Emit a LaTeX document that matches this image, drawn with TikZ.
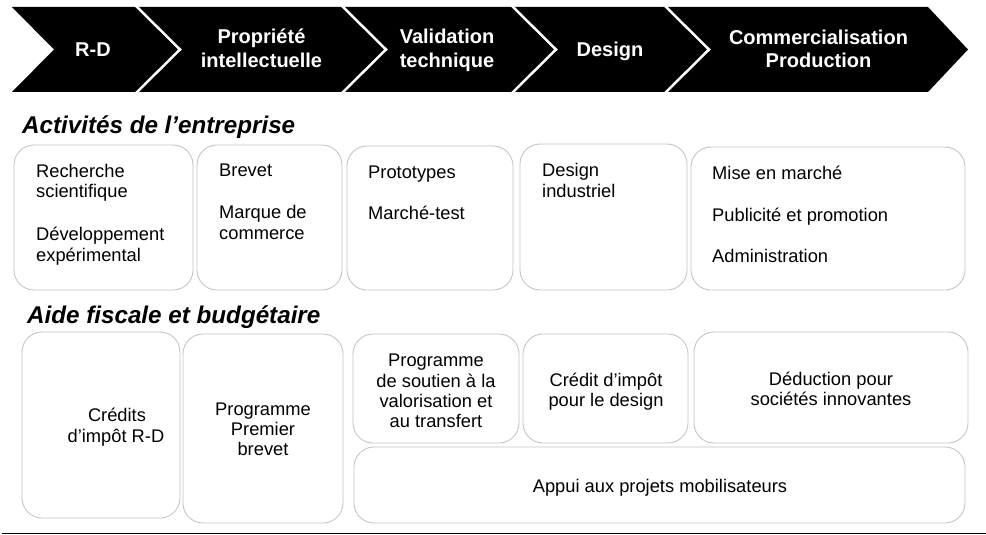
\documentclass[tikz,border=0pt]{standalone}
\usepackage{fontspec}
\setmainfont{Liberation Sans}
\definecolor{boxgray}{HTML}{C4C4C4}
\begin{document}
\begin{tikzpicture}[x=1pt,y=-1pt,
  box/.style={draw=boxgray, line width=0.9pt, rounded corners=20pt, anchor=north west, inner sep=0pt, outer sep=0pt},
  chevlab/.style={text=white, font=\bfseries\fontsize{20}{23}\selectfont, anchor=base, inner sep=0pt},
  celltxt/.style={font=\fontsize{18.3}{20.5}\selectfont, anchor=base west, inner sep=0pt},
  ctrtxt/.style={font=\fontsize{18.3}{20.5}\selectfont, anchor=base, inner sep=0pt},
  sectitle/.style={font=\bfseries\itshape\fontsize{24.2}{28}\selectfont, anchor=base west, inner sep=0pt},
  sep/.style={draw=white, line width=2.5pt}]
\useasboundingbox (0,0) rectangle (986,535);

% chevron band
\fill[black] (12,7) -- (928,7) -- (968,49.5) -- (928,92) -- (12,92) -- (54,49.5) -- cycle;
\foreach \b in {137,343,513,666}
  \draw[sep] (\b-2,5) -- (\b+43,49.5) -- (\b-2,94);

\node[chevlab] (l1) at (93,57) {R-D};
\node[chevlab] (l2a) at (261.5,44) {Propriété};
\node[chevlab] (l2b) at (261.5,67.5) {intellectuelle};
\node[chevlab] (l3a) at (447,44) {Validation};
\node[chevlab] (l3b) at (447,67.5) {technique};
\node[chevlab] (l4) at (610,57) {Design};
\node[chevlab] (l5a) at (818.5,45) {Commercialisation};
\node[chevlab] (l5b) at (818.5,68) {Production};

% section titles
\node[sectitle] (s1) at (22,133.3) {Activités de l’entreprise};
\node[sectitle] (s2) at (27,323.3) {Aide fiscale et budgétaire};

% row 1 boxes
\node[box, minimum width=179pt, minimum height=145pt] (b1) at (14,145) {};
\node[box, minimum width=145pt, minimum height=145pt] (b2) at (197,145) {};
\node[box, minimum width=166pt, minimum height=144pt] (b3) at (347,146) {};
\node[box, minimum width=167pt, minimum height=146pt] (b4) at (520,144) {};
\node[box, minimum width=274pt, minimum height=143pt] (b5) at (691,147) {};

\node[celltxt] (t1a) at (36,177) {Recherche};
\node[celltxt] (t1b) at (36,197.5) {scientifique};
\node[celltxt] (t1c) at (36,240.5) {Développement};
\node[celltxt] (t1d) at (36,261) {expérimental};
\node[celltxt] (t2a) at (219,176) {Brevet};
\node[celltxt] (t2b) at (219,218.5) {Marque de};
\node[celltxt] (t2c) at (219,239) {commerce};
\node[celltxt] (t3a) at (368,178) {Prototypes};
\node[celltxt] (t3b) at (368,219.5) {Marché-test};
\node[celltxt] (t4a) at (542,176.7) {Design};
\node[celltxt] (t4b) at (542,197) {industriel};
\node[celltxt] (t5a) at (712,179.3) {Mise en marché};
\node[celltxt] (t5b) at (712,221) {Publicité et promotion};
\node[celltxt] (t5c) at (712,262.7) {Administration};

% row 2 boxes
\node[box, minimum width=158pt, minimum height=186pt] (bA) at (22,332) {};
\node[box, minimum width=160pt, minimum height=189pt] (bB) at (183,334) {};
\node[box, minimum width=166pt, minimum height=109pt] (bC) at (353,334) {};
\node[box, minimum width=165pt, minimum height=109pt] (bD) at (523,334) {};
\node[box, minimum width=274pt, minimum height=111pt] (bE) at (694,332) {};
\node[box, minimum width=611pt, minimum height=76pt] (bF) at (354,447) {};

\node[ctrtxt] (uA1) at (117,421) {Crédits};
\node[ctrtxt] (uA2) at (116,442) {d’impôt R-D};
\node[ctrtxt] (uB1) at (263,415) {Programme};
\node[ctrtxt] (uB2) at (263,435) {Premier};
\node[ctrtxt] (uB3) at (263,455) {brevet};
\node[ctrtxt] (uC1) at (436,366.7) {Programme};
\node[ctrtxt] (uC2) at (436,387) {de soutien à la};
\node[ctrtxt] (uC3) at (436,407) {valorisation et};
\node[ctrtxt] (uC4) at (436,427) {au transfert};
\node[ctrtxt] (uD1) at (606,386) {Crédit d’impôt};
\node[ctrtxt] (uD2) at (606,406) {pour le design};
\node[ctrtxt] (uE1) at (831,385) {Déduction pour};
\node[ctrtxt] (uE2) at (831,405) {sociétés innovantes};
\node[ctrtxt] (uF) at (660,492.5) {Appui aux projets mobilisateurs};

% bottom rule
\coordinate (r1) at (2,533.5);
\coordinate (r2) at (986,533.5);
\draw[line width=1.5pt] (r1) -- (r2);
\end{tikzpicture}
\end{document}
